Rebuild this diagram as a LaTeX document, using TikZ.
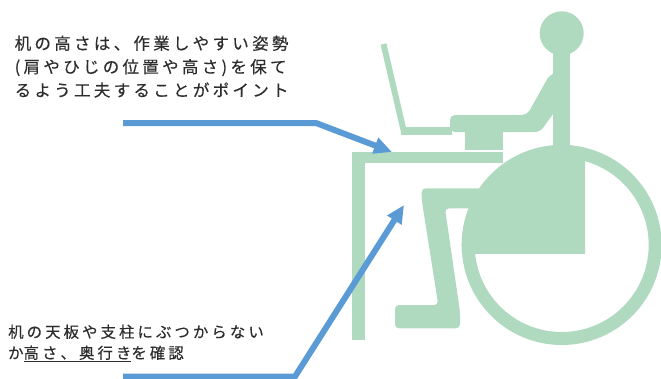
\documentclass[tikz,border=0pt]{standalone}
\usepackage{fontspec}
\newfontfamily\jpfont[LetterSpace=20, FakeBold=0.4]{Noto Sans CJK JP}
\usetikzlibrary{arrows.meta}

\definecolor{chairgreen}{RGB}{176,218,192}
\definecolor{callblue}{RGB}{91,155,213}
\definecolor{txtgray}{RGB}{45,45,45}

\begin{document}
\begin{tikzpicture}[
  x=1pt, y=-1pt,
  fig/.style={fill=chairgreen, draw=none},
  note/.style={font=\jpfont\fontsize{16.5}{23.4}\selectfont, text=txtgray,
               align=left, inner sep=0pt, anchor=north west},
  callout/.style={draw=callblue, line width=6pt, miter limit=20,
                  -{Triangle[length=18pt,width=16pt]}},
]
\useasboundingbox (0,0) rectangle (661,378);

% ------------------- desk and laptop -------------------
\fill[fig] (351.7,151.7) rectangle (503.3,163.3);   % top board
\fill[fig] (351.7,151.7) rectangle (365,340);       % leg
\draw[chairgreen, line width=6pt] (383.5,44) -- (403.5,130);  % screen
\fill[fig] (401,126.5) rectangle (452,135);         % base

% ------------------- person -------------------
\fill[fig] (561.7,33.3) circle[radius=22pt];        % head
\fill[fig] (553,50) rectangle (570,150);            % trunk
% arm: shoulder, elbow, forearm
\fill[fig, rounded corners=5pt] (550,74) -- (556,74) -- (556,110) -- (540,132)
  -- (450,132) -- (450,115) -- (527,115) -- cycle;
\fill[fig] (465,131) rectangle (503.3,149.5);       % hand on the desk
% thigh, shin and foot
\fill[fig, rounded corners=4pt] (486,188.3) -- (421.7,188.3) -- (421.7,200)
  -- (438.3,305) -- (395,305) -- (395,328.3) -- (460,328.3) -- (460,312)
  -- (445,208.3) -- (486,208.3) -- cycle;

% ------------------- wheelchair -------------------
\fill[fig, even odd rule] (561.7,245) circle[radius=100pt]
                           (561.7,245) circle[radius=87pt];
\begin{scope}
  \clip (455,140) rectangle (585,253.3);
  \fill[fig] (561.7,245) circle[radius=100pt];     % seat
\end{scope}

% ------------------- notes and pointers -------------------
\node[note] (deskheight) at (14.5,35.5)
  {机の高さは、作業しやすい姿勢\\(肩やひじの位置や高さ)を保て\\るよう工夫することがポイント};
\node[note, font=\jpfont\fontsize{15.4}{21}\selectfont] (legroom) at (8,324.5)
  {机の天板や支柱にぶつからない\\か\underline{高さ、奥行き}を確認};

\coordinate (up0) at (123,123);
\coordinate (up1) at (316,123);
\coordinate (desktip) at (392,152);
\coordinate (lo0) at (123,376.5);
\coordinate (lo1) at (295,376.5);
\coordinate (kneetip) at (404,205);

\draw[callout] (up0) -- (up1) -- (desktip);
\draw[callout] (lo0) -- (lo1) -- (kneetip);

\end{tikzpicture}
\end{document}
